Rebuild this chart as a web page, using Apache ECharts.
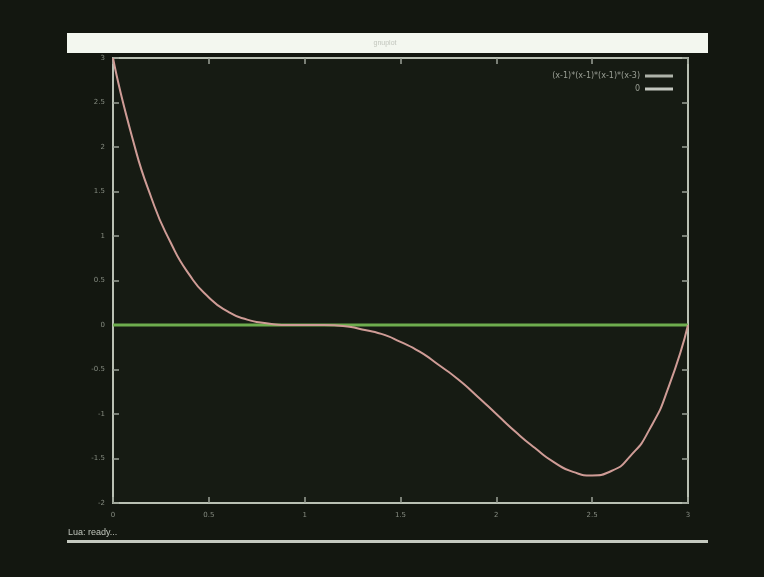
<!DOCTYPE html>
<html><head><meta charset="utf-8">
<script src="https://cdn.jsdelivr.net/npm/echarts@6/dist/echarts.min.js"></script>
<style>html,body{margin:0;padding:0;background:#131710;}#c{width:764px;height:577px;}</style>
</head><body><div id="c"></div>
<script>
// values
const xValues = [0,0.1,0.2,0.3,0.4,0.5,0.6,0.7,0.8,0.9,1.0,1.1,1.2,1.3,1.4,1.5,1.6,1.7,1.8,1.9,2.0,2.1,2.2,2.3,2.4,2.5,2.6,2.7,2.8,2.9,3.0];
const curveValues = [3.0,2.11,1.43,0.93,0.56,0.31,0.15,0.06,0.02,0.0,0.0,0.0,-0.01,-0.05,-0.1,-0.19,-0.3,-0.45,-0.61,-0.8,-1.0,-1.2,-1.38,-1.54,-1.65,-1.69,-1.64,-1.47,-1.17,-0.69,0.0];
const zeroX = [0, 3];
const zeroValues = [0, 0];
const seriesNames = ['(x-1)*(x-1)*(x-1)*(x-3)', '0'];
const xTicks = {min: 0, max: 3, step: 0.5};
const yTicks = {min: -2, max: 3, step: 0.5};

const chart = echarts.init(document.getElementById('c'));
const frame = '#b9c0b3';
const tickCol = '#9aa196';
const lab = {color: '#858b80', fontSize: 7, fontFamily: 'DejaVu Sans'};
function xa(pos, show) {
  return {type:'value', position:pos, min:xTicks.min, max:xTicks.max, interval:xTicks.step,
    axisLine:{show:true, onZero:false, lineStyle:{color:frame, width:2}},
    axisTick:{show:true, inside:true, length:6, lineStyle:{color:tickCol, width:1.5}},
    axisLabel:Object.assign({show:show, margin:9}, lab), splitLine:{show:false}};
}
function ya(pos, show) {
  return {type:'value', position:pos, min:yTicks.min, max:yTicks.max, interval:yTicks.step,
    axisLine:{show:true, onZero:false, lineStyle:{color:frame, width:2}},
    axisTick:{show:true, inside:true, length:6, lineStyle:{color:tickCol, width:1.5}},
    axisLabel:Object.assign({show:show, margin:8}, lab), splitLine:{show:false}};
}
chart.setOption({
  backgroundColor: '#131710',
  animation: false,
  grid: {left: 113, right: 76, top: 58, bottom: 74, backgroundColor: '#161b13', show: true, borderWidth: 0},
  xAxis: [xa('bottom', true), xa('top', false)],
  yAxis: [ya('left', true), ya('right', false)],
  legend: {
    orient: 'vertical', right: 86, top: 67, align: 'right', itemGap: 5,
    itemWidth: 28, itemHeight: 3, icon: 'rect',
    textStyle: {color: '#9a9f95', fontSize: 8, fontFamily: 'DejaVu Sans'},
    data: [{name: seriesNames[0], itemStyle: {color: '#aeb3a9'}}, {name: seriesNames[1], itemStyle: {color: '#c4c8c0'}}]
  },
  series: [
    {name: seriesNames[0], type: 'line', smooth: 0.6, showSymbol: false,
     data: xValues.map((x, i) => [x, curveValues[i]]),
     lineStyle: {color: '#cf9c96', width: 2}, itemStyle: {color: '#cf9c96'}, z: 3},
    {name: seriesNames[1], type: 'line', showSymbol: false,
     data: zeroX.map((x, i) => [x, zeroValues[i]]),
     lineStyle: {color: '#6ead4e', width: 3}, itemStyle: {color: '#6ead4e'}, z: 2}
  ],
  graphic: [
    {type: 'rect', shape: {x: 67, y: 33, width: 641, height: 20}, style: {fill: '#f3f7ef'}},
    {type: 'text', x: 385, y: 43, style: {text: 'gnuplot', fill: '#c2c6bd', fontSize: 7, align: 'center', verticalAlign: 'middle'}},
    {type: 'rect', shape: {x: 67, y: 540, width: 641, height: 3}, style: {fill: '#c5cac0'}},
    {type: 'text', x: 68, y: 533, style: {text: 'Lua: ready...', fill: '#bfc4ba', fontSize: 9, verticalAlign: 'middle'}}
  ]
});
</script></body></html>
